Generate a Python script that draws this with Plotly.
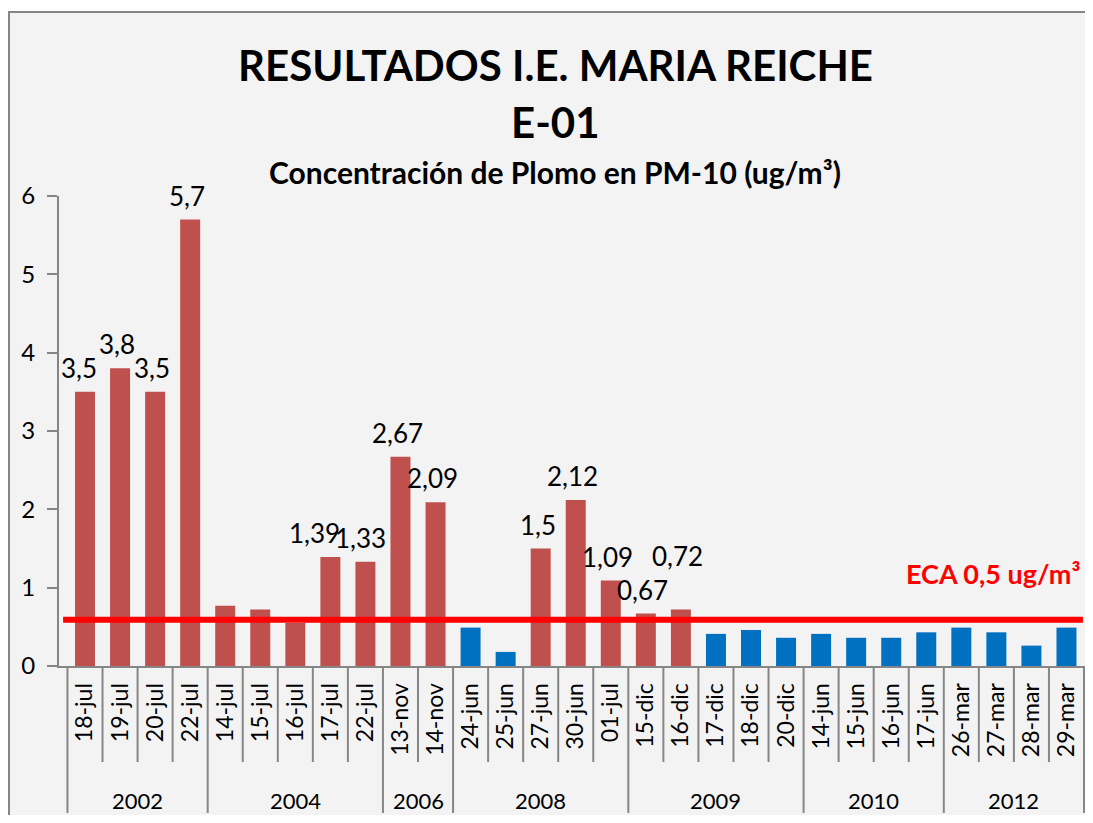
import plotly.graph_objects as go

# ---------------- data ----------------
years = ["2002"] * 4 + ["2004"] * 5 + ["2006"] * 2 + ["2008"] * 5 + ["2009"] * 5 + ["2010"] * 4 + ["2012"] * 4
dates = ["18-jul", "19-jul", "20-jul", "22-jul",
         "14-jul", "15-jul", "16-jul", "17-jul", "22-jul",
         "13-nov", "14-nov",
         "24-jun", "25-jun", "27-jun", "30-jun", "01-jul",
         "15-dic", "16-dic", "17-dic", "18-dic", "20-dic",
         "14-jun", "15-jun", "16-jun", "17-jun",
         "26-mar", "27-mar", "28-mar", "29-mar"]
values = [3.5, 3.8, 3.5, 5.7,
          0.77, 0.72, 0.55, 1.39, 1.33,
          2.67, 2.09,
          0.49, 0.18, 1.5, 2.12, 1.09,
          0.67, 0.72, 0.41, 0.46, 0.36,
          0.41, 0.36, 0.36, 0.43,
          0.49, 0.43, 0.26, 0.49]
value_labels = ["3,5", "3,8", "3,5", "5,7",
                "", "", "", "1,39", "1,33",
                "2,67", "2,09",
                "", "", "1,5", "2,12", "1,09",
                "0,67", "0,72", "", "", "",
                "", "", "", "",
                "", "", "", ""]
eca_limit = 0.5          # ECA standard (ug/m3)
eca_line_level = 0.59    # level at which the line is drawn in the original chart
y_ticks = [0, 1, 2, 3, 4, 5, 6]

# ---------------- styles ----------------
RED = "#C0504D"
BLUE = "#0070C0"
GRAY = "#868686"
BG = "#F3F3F3"
FONT = "Lato, Carlito, sans-serif"

W, H = 1077, 807
ML, MR, MT, MB = 51, 0, 188, 149
PLOT_W = W - ML - MR
PLOT_H = H - MT - MB

# unique category keys (year + date), shown with the date only
keys = [f"{y} {d}" for y, d in zip(years, dates)]
colors = [RED if v > eca_limit else BLUE for v in values]

fig = go.Figure()
fig.add_trace(go.Bar(
    x=keys, y=values,
    marker=dict(color=colors, line=dict(width=0)),
    hoverinfo="skip",
))

# data labels
label_yshift = {17: 54}
label_xshift = {0: -6, 7: -16, 8: -5}
for i, (k, v, lab) in enumerate(zip(keys, values, value_labels)):
    if lab:
        fig.add_annotation(x=k, y=v, xref="x", yref="y", text=lab, showarrow=False,
                           xanchor="center", yanchor="middle",
                           yshift=label_yshift.get(i, 24), xshift=label_xshift.get(i, -3),
                           font=dict(family=FONT, size=26, color="#000000"))

# x-axis separators: between dates (short) and between years (long)
n = len(keys)
group_edges = [0] + [i for i in range(1, n) if years[i] != years[i - 1]] + [n]
for i in range(n + 1):
    long_line = i in group_edges
    fig.add_shape(type="line", xref="x", yref="paper",
                  x0=i - 0.5, x1=i - 0.5, y0=0,
                  y1=-(147 if long_line else 96) / PLOT_H,
                  line=dict(color=GRAY, width=2))
# year labels
for a, b in zip(group_edges[:-1], group_edges[1:]):
    fig.add_annotation(x=(a + b - 1) / 2, y=-134 / PLOT_H, xref="x", yref="paper",
                       text=years[a], showarrow=False, xanchor="center", yanchor="middle",
                       font=dict(family=FONT, size=22, color="#000000"))

# ECA line
fig.add_shape(type="line", xref="paper", yref="y", x0=0.004, x1=0.998,
              y0=eca_line_level, y1=eca_line_level,
              line=dict(color="#FF0000", width=6))
fig.add_annotation(x=(985 - ML) / PLOT_W, y=eca_line_level, xref="paper", yref="y",
                   text="<b>ECA 0,5 ug/m³</b>", showarrow=False, yshift=46,
                   xanchor="center", yanchor="middle",
                   font=dict(family=FONT, size=27, color="#FF0000"))

# titles (positions in figure pixels, converted to paper coords)
tx = (547 - ML) / PLOT_W
for text, ypx, size in [("<b>RESULTADOS I.E. MARIA REICHE</b>", 57, 42),
                        ("<b>E-01</b>", 114, 42),
                        ("<b>Concentración de Plomo en PM-10 (ug/m³)</b>", 164, 30)]:
    fig.add_annotation(x=tx, y=(MT + PLOT_H - ypx) / PLOT_H, xref="paper", yref="paper",
                       showarrow=False, xanchor="center", yanchor="middle", text=text,
                       font=dict(family=FONT, size=size, color="#000000"))

# outer chart frame
fig.add_shape(type="rect", xref="paper", yref="paper", layer="below",
              x0=(1 - ML) / PLOT_W, x1=(W + 30 - ML) / PLOT_W,
              y0=(MT + PLOT_H - H - 30) / PLOT_H, y1=(MT + PLOT_H - 4) / PLOT_H,
              fillcolor=BG, line=dict(color=GRAY, width=2))

fig.update_layout(
    width=W, height=H,
    margin=dict(l=ML, r=MR, t=MT, b=MB, pad=0),
    paper_bgcolor="#FFFFFF", plot_bgcolor="rgba(0,0,0,0)",
    bargap=0.43, showlegend=False,
    font=dict(family=FONT, color="#000000"),
)
fig.update_xaxes(
    type="category", categoryorder="array", categoryarray=keys,
    tickvals=keys, ticktext=dates, tickangle=-90,
    tickfont=dict(family=FONT, size=23, color="#000000"),
    ticks="", ticklabelstandoff=6,
    showline=True, linecolor=GRAY, linewidth=2,
    showgrid=False, zeroline=False,
)
fig.update_yaxes(
    range=[0, 6], tickvals=y_ticks, ticktext=[str(t) for t in y_ticks],
    tickfont=dict(family=FONT, size=24, color="#000000"),
    showline=True, linecolor=GRAY, linewidth=2,
    ticks="outside", ticklen=10, tickcolor=GRAY, tickwidth=2,
    ticklabelstandoff=7,
    showgrid=False, zeroline=False,
)

fig.write_html("out.html")
